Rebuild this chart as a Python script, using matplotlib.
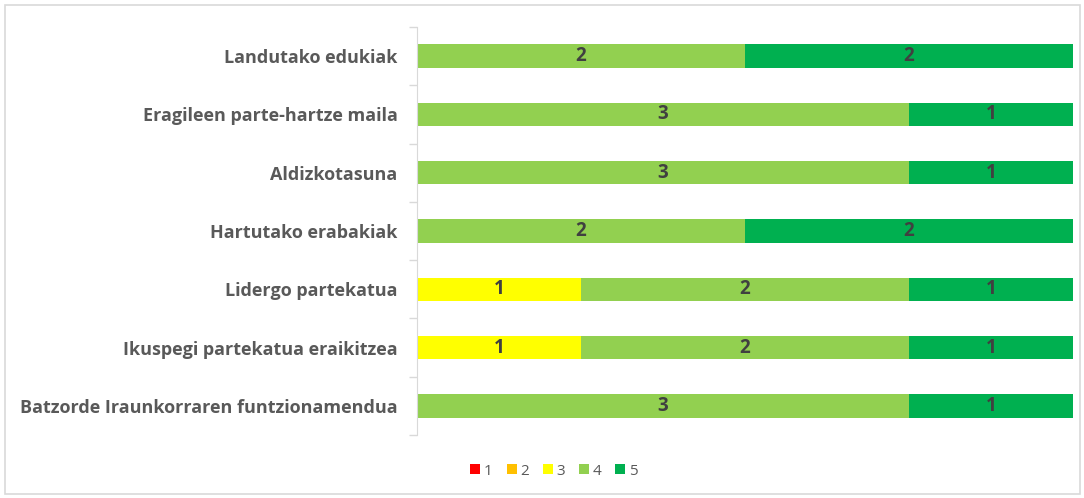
import numpy as np
import matplotlib.pyplot as plt
from matplotlib.patches import Rectangle

plt.rcParams['font.family'] = ['Open Sans', 'DejaVu Sans']

categories = [
    'Landutako edukiak',
    'Eragileen parte-hartze maila',
    'Aldizkotasuna',
    'Hartutako erabakiak',
    'Lidergo partekatua',
    'Ikuspegi partekatua eraikitzea',
    'Batzorde Iraunkorraren funtzionamendua',
]
ratings = ['1', '2', '3', '4', '5']
counts_1 = [0, 0, 0, 0, 0, 0, 0]
counts_2 = [0, 0, 0, 0, 0, 0, 0]
counts_3 = [0, 0, 0, 0, 1, 1, 0]
counts_4 = [2, 3, 3, 2, 2, 2, 3]
counts_5 = [2, 1, 1, 2, 1, 1, 1]
colors = ['#ff0000', '#ffc000', '#ffff00', '#92d050', '#00b050']

series = np.array([counts_1, counts_2, counts_3, counts_4, counts_5], dtype=float)
share = series / series.sum(axis=0)

fig = plt.figure(figsize=(10.84, 4.98), dpi=100)
ax = fig.add_axes([417 / 1084, 1 - 435 / 498, 656 / 1084, 408 / 498])

y = np.arange(len(categories))
left = np.zeros(len(categories))
for i, name in enumerate(ratings):
    ax.barh(y, share[i], left=left, height=0.4, color=colors[i], label=name)
    for j in range(len(categories)):
        if series[i, j] > 0:
            ax.text(left[j] + share[i, j] / 2, y[j], '%d' % series[i, j],
                    ha='center', va='center', fontsize=13.5,
                    fontweight='bold', color='#404040')
    left += share[i]

ax.set_xlim(0, 1)
ax.set_ylim(len(categories) - 0.5, -0.5)
ax.set_yticks(y)
ax.set_yticklabels(categories, fontsize=13, fontweight='bold', color='#595959')
ax.set_yticks(np.arange(-0.5, len(categories)), minor=True)
ax.tick_params(axis='y', which='major', length=0, pad=14)
ax.tick_params(axis='y', which='minor', length=6, color='#d9d9d9', width=1)
ax.set_xticks([])
for s in ['top', 'right', 'bottom']:
    ax.spines[s].set_visible(False)
ax.spines['left'].set_color('#d9d9d9')

fig.legend(loc='center', bbox_to_anchor=(554 / 1084, 1 - 471 / 498), ncol=5,
           frameon=False, handlelength=0.65, handleheight=0.65,
           handletextpad=0.25, columnspacing=0.9,
           prop={'size': 11}, labelcolor='#595959')

fig.patches.append(Rectangle((5 / 1084, 4 / 498), 1075 / 1084, 489 / 498,
                             transform=fig.transFigure, fill=False,
                             edgecolor='#d9d9d9', linewidth=1.2))

fig.savefig('out.png', dpi=100)
